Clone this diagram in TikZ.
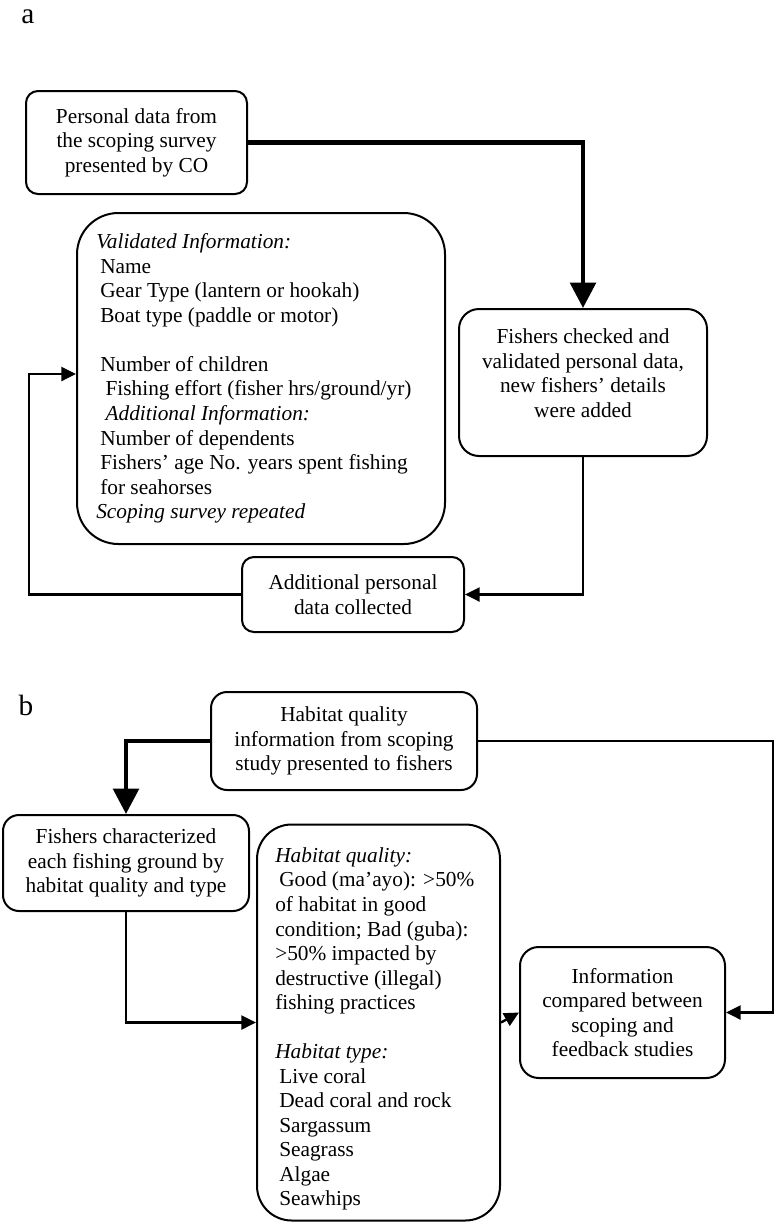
\documentclass[tikz,border=0pt]{standalone}
\usepackage{fontspec}
\setmainfont{Liberation Serif}
\usetikzlibrary{arrows.meta}

\begin{document}
\begin{tikzpicture}[x=0.75pt,y=0.75pt,yscale=-1,xscale=1,
    every node/.style={font=\fontsize{16}{18.4}\selectfont},
    panel/.style={font=\fontsize{22}{26}\selectfont,inner sep=0pt},
    box/.style={draw,line width=1.5pt,rounded corners=9pt,align=center,inner sep=0pt},
    txt/.style={align=left,inner sep=0pt},
    link/.style={line width=1.8pt,-{Triangle[length=11pt,width=10.5pt]}},
    thick link/.style={line width=3.4pt,-{Triangle[length=19pt,width=19pt]}}]
    \useasboundingbox (0,0) rectangle (774,1224);

    % panel a
    \node[panel] (la) at (28,17) {a};
    \node[box,minimum width=165.75pt,minimum height=77.25pt] (data) at (136.5,142.5)
        {Personal data from\\the scoping survey\\presented by CO};
    \node[box,rounded corners=31pt,minimum width=276pt,minimum height=248.25pt] (valid) at (261,378.5) {};
    \node[txt,anchor=west] (validtxt) at (96,378.5)
        {\textit{Validated Information:}\\
         \hspace*{3pt}Name\\
         \hspace*{3pt}Gear Type (lantern or hookah)\\
         \hspace*{3pt}Boat type (paddle or motor)\\[18.4pt]
         \hspace*{3pt}Number of children\\
         \hspace*{7pt}Fishing effort (fisher hrs/ground/yr)\\
         \hspace*{7pt}\textit{Additional Information:}\\
         \hspace*{3pt}Number of dependents\\
         \hspace*{3pt}Fishers’ age No. years spent fishing\\
         \hspace*{3pt}for seahorses\\
         \textit{Scoping survey repeated}};
    \node[box,rounded corners=15pt,minimum width=186pt,minimum height=110.25pt] (check) at (583,382.5) {};
    \node[align=center,inner sep=0pt] (checktxt) at (583,373)
        {Fishers checked and\\validated personal data,\\new fishers’ details\\were added};
    \node[box,minimum width=166.5pt,minimum height=56.25pt] (add) at (353,594.5)
        {Additional personal\\data collected};
    \coordinate (loopa) at (29,374);

    \draw[thick link] (data.east) -| (check.north);
    \draw[link] (check.south) |- (add.east);
    \draw[link] (add.west) -| (loopa) -- (valid.west |- loopa);

    % panel b
    \node[panel] (lb) at (26,705) {b};
    \node[box,rounded corners=12pt,minimum width=199.5pt,minimum height=73.5pt] (hab) at (344,741)
        {Habitat quality\\information from scoping\\study presented to fishers};
    \node[box,rounded corners=12pt,minimum width=184.5pt,minimum height=72pt] (char) at (126,863)
        {Fishers characterized\\each fishing ground by\\habitat quality and type};
    \node[box,rounded corners=26pt,minimum width=182.25pt,minimum height=297pt] (qual) at (378.5,1022.5) {};
    \node[txt,anchor=west] (qualtxt) at (275,1029)
        {\textit{Habitat quality:}\\
         \hspace*{3pt}Good (ma’ayo): >50\%\\
         of habitat in good\\
         condition; Bad (guba):\\
         >50\% impacted by\\
         destructive (illegal)\\
         fishing practices\\[18.4pt]
         \textit{Habitat type:}\\
         \hspace*{3pt}Live coral\\
         \hspace*{3pt}Dead coral and rock\\
         \hspace*{3pt}Sargassum\\
         \hspace*{3pt}Seagrass\\
         \hspace*{3pt}Algae\\
         \hspace*{3pt}Seawhips};
    \node[box,rounded corners=14pt,minimum width=153.75pt,minimum height=98.25pt] (info) at (622.5,1012.5)
        {Information\\compared between\\scoping and\\feedback studies};

    \draw[thick link] (hab.west) -| (char.north);
    \draw[link] (hab.east) -- ++(295,0) |- (info.east);
    \draw[link] (char.south) |- (qual.west);
    \draw[link] (qual.east) -- (info.west);
\end{tikzpicture}
\end{document}
